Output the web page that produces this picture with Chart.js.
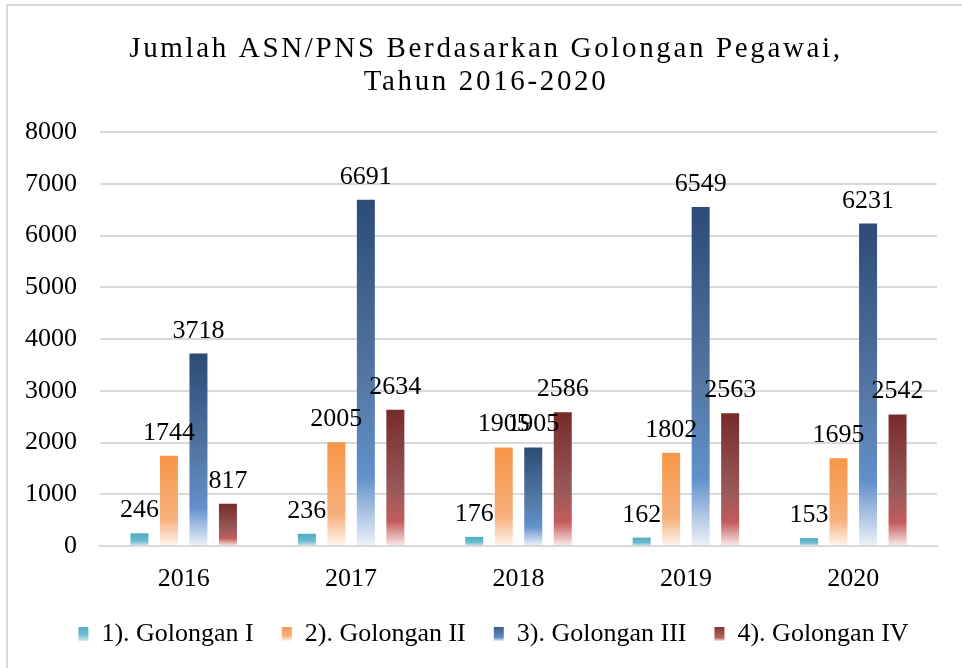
<!DOCTYPE html>
<html>
<head>
<meta charset="utf-8">
<script src="https://cdn.jsdelivr.net/npm/chart.js@4.4.1/dist/chart.umd.min.js"></script>
<style>
  html, body { margin: 0; padding: 0; background: #fff; }
  #wrap { width: 962px; height: 668px; position: relative; }
</style>
</head>
<body>
<div id="wrap"><canvas id="golChart" width="962" height="668"></canvas></div>
<script>
// data
const years = ["2016", "2017", "2018", "2019", "2020"];
const golongan1 = [246, 236, 176, 162, 153];
const golongan2 = [1744, 2005, 1905, 1802, 1695];
const golongan3 = [3718, 6691, 1905, 6549, 6231];
const golongan4 = [817, 2634, 2586, 2563, 2542];
const seriesNames = ["1). Golongan I", "2). Golongan II", "3). Golongan III", "4). Golongan IV"];
const titleLines = ["Jumlah ASN/PNS Berdasarkan Golongan Pegawai,", "Tahun 2016-2020"];

const FONT = "'Liberation Serif', 'Times New Roman', serif";

// gradient stops per series: top -> bottom
const gradStops = [
  [[0, "#4BACC6"], [0.6, "#6DBBD0"], [1, "#CDEAF2"]],
  [[0, "#F79646"], [0.7, "#F6B07C"], [1, "#FFF6EE"]],
  [[0, "#2C4B76"], [0.55, "#557AA8"], [0.8, "#6190CB"], [1, "#EEF2F9"]],
  [[0, "#772A2A"], [0.6, "#9A5A5A"], [0.82, "#C45B5B"], [1, "#FBEBEB"]]
];
const legendColors = ["#4BACC6", "#F79646", "#3A5F8F", "#8E3B3B"];

function makeGradient(c, i, top, bottom) {
  const g = c.createLinearGradient(0, top, 0, bottom);
  gradStops[i].forEach(([p, col]) => g.addColorStop(p, col));
  return g;
}

function barGradient(ctx, i) {
  if (ctx.type !== "data") return legendColors[i];
  const chart = ctx.chart;
  const y = chart.scales.y;
  if (!y) return legendColors[i];
  const top = y.getPixelForValue(ctx.parsed.y);
  const bottom = y.getPixelForValue(0);
  if (!isFinite(top) || !isFinite(bottom) || bottom - top < 1) return legendColors[i];
  return makeGradient(chart.ctx, i, top, bottom);
}

// judul + bingkai
const titlePlugin = {
  id: "titleAndFrame",
  beforeDraw(chart) {
    const c = chart.ctx;
    c.save();
    c.strokeStyle = "#D9D9D9";
    c.lineWidth = 2;
    c.strokeRect(7, 5, 970, 680);
    c.fillStyle = "#000";
    c.font = "29px " + FONT;
    c.textAlign = "center";
    c.textBaseline = "alphabetic";
    c.letterSpacing = "2.65px";
    c.fillText(titleLines[0], 486, 57);
    c.fillText(titleLines[1], 486, 90);
    c.restore();
  }
};

// label nilai di atas batang
const valueLabels = {
  id: "valueLabels",
  afterDatasetsDraw(chart) {
    const c = chart.ctx;
    c.save();
    c.fillStyle = "#000";
    c.font = "26px " + FONT;
    c.textAlign = "center";
    c.textBaseline = "alphabetic";
    chart.data.datasets.forEach((ds, di) => {
      const meta = chart.getDatasetMeta(di);
      meta.data.forEach((bar, idx) => {
        c.fillText(String(ds.data[idx]), bar.x, bar.y - 16);
      });
    });
    c.restore();
  }
};

// geser legenda sedikit ke kanan (tengah area plot)
const legendShift = {
  id: "legendShift",
  afterLayout(chart) {
    if (chart.legend) {
      chart.legend.left += 25;
      chart.legend.right += 25;
    }
  }
};

const allSeries = [golongan1, golongan2, golongan3, golongan4];

new Chart(document.getElementById("golChart"), {
  type: "bar",
  data: {
    labels: years,
    datasets: allSeries.map((vals, i) => ({
      label: seriesNames[i],
      data: vals,
      backgroundColor: (ctx) => barGradient(ctx, i),
      borderWidth: 0,
      categoryPercentage: 0.705,
      barPercentage: 0.61
    }))
  },
  options: {
    responsive: false,
    animation: false,
    layout: { padding: { top: 132, right: 25, left: 0, bottom: 11 } },
    scales: {
      x: {
        grid: { display: false, drawTicks: false },
        border: { display: true, color: "#D9D9D9", width: 2 },
        ticks: { color: "#000", font: { family: FONT, size: 26 }, padding: 18 },
        afterFit(scale) { scale.height = 47; }
      },
      y: {
        min: 0,
        max: 8000,
        ticks: {
          stepSize: 1000,
          color: "#000",
          font: { family: FONT, size: 26 },
          padding: 23,
          callback: (v) => String(v)
        },
        grid: { color: "#D9D9D9", lineWidth: 2, drawTicks: false },
        border: { display: false },
        afterFit(scale) { scale.width = 100; }
      }
    },
    plugins: {
      legend: {
        position: "bottom",
        labels: {
          color: "#000",
          font: { family: FONT, size: 26 },
          boxWidth: 10,
          boxHeight: 14,
          padding: 28,
          generateLabels(chart) {
            const items = Chart.defaults.plugins.legend.labels.generateLabels(chart);
            items.forEach((it, i) => {
              it.fillStyle = makeGradient(chart.ctx, i, 624, 641);
              it.strokeStyle = "rgba(0,0,0,0)";
              it.lineWidth = 0;
            });
            return items;
          }
        }
      },
      tooltip: { enabled: false }
    }
  },
  plugins: [titlePlugin, valueLabels, legendShift]
});
</script>
</body>
</html>
